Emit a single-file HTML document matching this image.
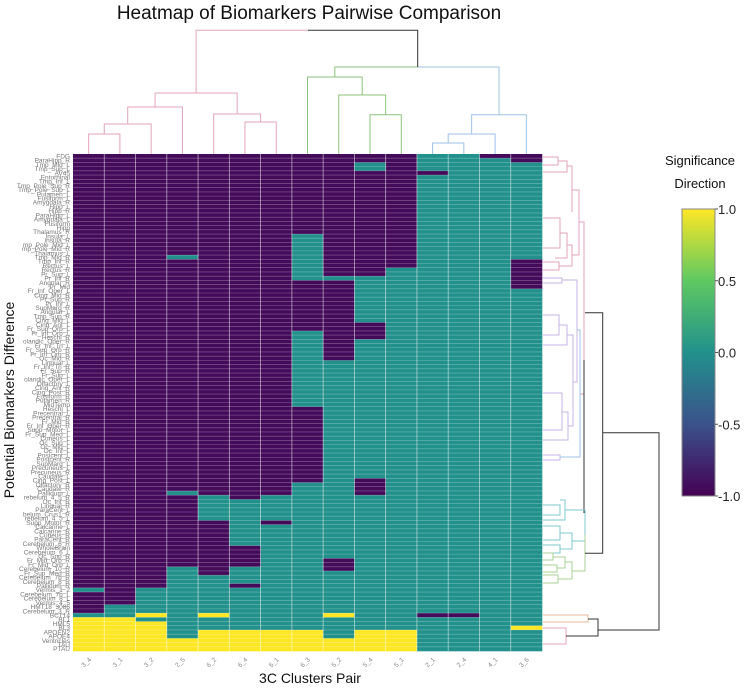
<!DOCTYPE html>
<html><head><meta charset="utf-8"><style>
body{margin:0;background:#fff;}
svg{display:block;font-family:"Liberation Sans",sans-serif;}
</style></head><body>
<svg id="chart" width="748" height="688" viewBox="0 0 748 688" xmlns="http://www.w3.org/2000/svg">
<text x="309" y="19" text-anchor="middle" font-size="19" fill="#111">Heatmap of Biomarkers Pairwise Comparison</text>
<text x="310" y="683" text-anchor="middle" font-size="14" fill="#111">3C Clusters Pair</text>
<text transform="translate(14,400) rotate(-90)" text-anchor="middle" font-size="14" fill="#111">Potential Biomarkers Difference</text>
<g id="cells"></g>
<g id="grid"></g>
<g id="rowlabels"></g>
<g id="collabels"></g>
<g id="topdendro" fill="none" stroke-width="1"></g>
<g id="rightdendro" fill="none" stroke-width="1"></g>
<defs><linearGradient id="vir" x1="0" y1="1" x2="0" y2="0">
<stop offset="0" stop-color="#440154"/><stop offset="0.25" stop-color="#3b528b"/><stop offset="0.5" stop-color="#21918c"/><stop offset="0.75" stop-color="#5ec962"/><stop offset="1" stop-color="#fde725"/></linearGradient></defs>
<g>
<text x="700" y="165" text-anchor="middle" font-size="13" fill="#111">Significance</text>
<text x="700" y="188" text-anchor="middle" font-size="13" fill="#111">Direction</text>
<rect x="682" y="209" width="33" height="287" fill="url(#vir)" stroke="#888" stroke-width="1"/>
<g id="cbticks"></g>
</g>
</svg>
<script>
const colLabels=["3_4","3_1","3_2","2_5","6_2","6_4","6_1","6_3","5_2","5_4","5_1","2_1","2_4","4_1","3_6"];
const nRows=118;
// run-length values per column: [value, rowCount] pairs (-1 purple, 0 teal, 1 yellow)
const col0=[[-1,103],[0,1],[-1,5],[0,1],[1,8]];
const col1=[[-1,107],[0,3],[1,8]];
const col2=[[-1,103],[0,6],[1,1],[0,1],[1,7]];
const col3=[[-1,24],[0,1],[-1,55],[0,1],[-1,17],[0,17],[1,3]];
const col4=[[-1,81],[0,6],[-1,13],[0,9],[1,1],[0,3],[1,5]];
const col5=[[-1,82],[0,11],[-1,5],[0,4],[-1,1],[0,10],[1,5]];
const col6=[[-1,81],[0,6],[-1,1],[0,25],[1,5]];
const col7=[[-1,19],[0,11],[-1,12],[0,18],[-1,18],[0,35],[1,5]];
const col8=[[-1,29],[0,1],[-1,19],[0,47],[-1,3],[0,10],[1,1],[0,5],[1,3]];
const col9=[[-1,2],[0,2],[-1,25],[0,11],[-1,4],[0,33],[-1,4],[0,32],[1,5]];
const col10=[[-1,27],[0,86],[1,5]];
const col11=[[0,4],[-1,1],[0,104],[-1,1],[0,8]];
const col12=[[0,109],[-1,1],[0,8]];
const col13=[[-1,1],[0,117]];
const col14=[[-1,2],[0,23],[-1,7],[0,80],[1,1],[0,5]];
const columns=[col0,col1,col2,col3,col4,col5,col6,col7,col8,col9,col10,col11,col12,col13,col14];
const rowLabels=["FDG","ParaHipp_R","Tmp_Mid_L","Tmp_Sup_L","AV45","Entorhinal","Tmp_Inf_L","Tmp_Pole_Sup_R","Tmp_Pole_Sup_L","Putamen_L","Fusiform_L","Amygdala_R","Hipp_L","Hipp_R","ParaHipp_L","Amygdala_L","Fusiform","Hipp","Thalamus_R","Insula_L","Insula_R","mp_Pole_Mid_L","mp_Pole_Mid_R","Thalamus_L","Tmp_Mid_R","Tmp_Inf_R","Rectus_L","Rectus_R","Pr_Sup_L","Pr_Inf_R","Angular_R","Pr_Mid","Fr_Inf_Oper_L","Cing_Mid_R","Pr_Sup_R","Pr_Inf_L","SupMarg_R","Angular_L","Tmp_Sup_R","Cing_Mid_L","Cing_Ant_L","Fr_Sup_Orb_L","Fr_Inf_Orb_L","Heschl_R","olandic_Oper_R","Fr_Inf_Tri_L","Fr_Sup_Orb_R","Fr_Inf_Orb_R","Oc_Mid_R","Lingual_L","Fr_Inf_Tri_R","Fr_Sup_R","Fr_Sup_L","olandic_Oper_L","Olfactory_L","Cing_Ant_R","Cing_Post_R","Fusiform_R","Putamen_R","MidTemp","Heschl_L","Precentral_L","Precentral_R","Fr_Mid_R","Fr_Inf_Oper_R","Supp_Motor_L","Fr_Sup_Med_L","Cuneus_L","Oc_Sup_L","Oc_Mid_L","Oc_Inf_L","Postcent_L","Postcent_R","SupMarg_L","Precuneus_L","Precuneus_R","Caudate_L","Cing_Post_L","Olfactory_R","Caudate_R","Pallidum_L","rebelum_4_5_R","Oc_Inf_R","Lingual_R","ParaCent_L","belum_Crus1_R","rebelum_4_5_L","Supp_Motor_R","Calcarine_L","Calcarine_R","Cuneus_R","ParaCent_R","Cerebelum_6_R","WholeBrain","Cerebelum_6_L","Oc_Sup_R","Fr_Mid_Orb_R","Fr_Mid_Orb_L","Cerebelum_10_R","Fr_Sup_Med_R","Cerebelum_7b_R","Cerebelum_8_R","Pallidum_R","Vermis_1_2","Cerebelum_7b_L","Cerebelum_8_L","Vermis_4_5","HMT18_3086","Cerebelum_3_R","BCT14","BL1","HML5","BL3","APOEN2","APOE4","Ventricles","TAU","PTAU"];
const cbTicks=[1.0,0.5,0.0,-0.5,-1.0];

const NS="http://www.w3.org/2000/svg";
const X0=73,X1=542,Y0=154,Y1=651;
const cw=(X1-X0)/colLabels.length, rh=(Y1-Y0)/nRows;
const xPos=i=>X0+i*cw, yPos=r=>Y0+r*rh;
const colorOf=v=>v<0?"#450b5b":(v>0?"#fde725":"#22918b");
function mk(tag,attrs,parent){const e=document.createElementNS(NS,tag);for(const k in attrs)e.setAttribute(k,attrs[k]);parent.appendChild(e);return e;}
const cells=document.getElementById('cells');
columns.forEach((runs,ci)=>{let r=0;runs.forEach(([v,n])=>{
  const e=mk('rect',{x:xPos(ci),y:yPos(r),width:cw+0.3,height:n*rh+0.3,fill:colorOf(v)},cells);
  
  
  r+=n;});});
const grid=document.getElementById('grid');
for(let r=1;r<nRows;r++){const l=mk('line',{x1:X0,x2:X1,y1:yPos(r),y2:yPos(r),stroke:"rgba(255,255,255,0.35)","stroke-width":0.6},grid);
  
  }
for(let c=1;c<colLabels.length;c++){const l=mk('line',{x1:xPos(c),x2:xPos(c),y1:Y0,y2:Y1,stroke:"rgba(255,255,255,0.6)","stroke-width":0.8},grid);
  
  }
const rl=document.getElementById('rowlabels');
const off=nRows-rowLabels.length;
rowLabels.forEach((t,i)=>{const r=i+off;
  const e=mk('text',{x:70,y:yPos(r+0.5)+2.3,"text-anchor":"end","font-size":6.5,fill:"#777"},rl);e.textContent=t;
  
  });
const cl=document.getElementById('collabels');
colLabels.forEach((t,i)=>{const cx=xPos(i+0.5);
  const e=mk('text',{x:0,y:0,"text-anchor":"end","font-size":6.5,fill:"#888",transform:`translate(${cx+3},${Y1+9}) rotate(-45)`},cl);e.textContent=t;
  
  });
const cbt=document.getElementById('cbticks');
cbTicks.forEach(v=>{const y=496-(v+1)/2*287;
  mk('line',{x1:715,x2:718,y1:y,y2:y,stroke:"#555"},cbt);
  const e=mk('text',{x:718,y:y+5,"font-size":13,fill:"#222"},cbt);e.textContent=v.toFixed(1);
  
  });
// top dendrogram: path segments
const pink="#e3a5b8",green="#8cc37c",blue="#9dc2e6",purp="#c4b4e4",teal="#7fc8cf",lgreen="#a9d09a",orange="#e8b89c";
const cx=i=>xPos(i+0.5);
const td=document.getElementById('topdendro');
function U(xa,ya,xb,yb,top,col,g){mk('path',{d:`M${xa},${ya}V${top}H${xb}V${yb}`,stroke:col},g);}
const a=cx(0)/2+cx(1)/2;
U(cx(0),154,cx(1),154,134,pink,td);
U(a,134,cx(2),154,124,pink,td);
const b=(a+cx(2))/2; U(b,124,cx(3),154,107,pink,td);
const c1=(b+cx(3))/2;
U(cx(5),154,cx(6),154,122,pink,td);
const d=(cx(5)+cx(6))/2; U(cx(4),154,d,122,114,pink,td);
const e2=(cx(4)+d)/2; U(c1,107,e2,114,93,pink,td);
const pinkTop=(c1+e2)/2;
U(cx(9),154,cx(10),154,114.7,green,td);
const g1=(cx(9)+cx(10))/2; U(cx(8),154,g1,114.7,95,green,td);
const g2=(cx(8)+g1)/2; U(cx(7),154,g2,95,77,green,td);
const gTop=(cx(7)+g2)/2;
U(cx(11),154,cx(12),154,143,blue,td);
const b1=(cx(11)+cx(12))/2; U(b1,143,cx(13),154,134,blue,td);
const b2=(b1+cx(13))/2; U(b2,134,cx(14),154,114.7,blue,td);
const bTop=(b2+cx(14))/2;
const gb=417.7;
mk('path',{d:`M${gTop},77V67H${gb}`,stroke:green},td);
mk('path',{d:`M${gb},67H${bTop}V114.7`,stroke:blue},td);
mk('path',{d:`M${pinkTop},93V30.3H308`,stroke:pink},td);
mk('path',{d:`M308,30.3H${gb}V67`,stroke:"#333"},td);
// right dendrogram
const rd=document.getElementById('rightdendro');
function R(y1,y2,xl1,xl2,xj,col){mk('path',{d:`M${xl1},${y1}H${xj}V${y2}H${xl2}`,stroke:col},rd);}
R(157,165,543,543,558,pink);R(161,172,558,543,567,pink);R(166,212,567,572,572,pink);
R(218,248,543,543,560,pink);R(233,258,560,555,567,pink);R(262,270,543,543,559,pink);R(245,266,567,559,572,pink);
R(190,255,572,572,579,pink);
R(278,283,543,543,562,purp);R(315,335,543,543,559,purp);R(325,345,559,543,567,purp);
R(393,430,543,543,562,purp);R(412,440,562,543,568,purp);R(335,426,567,568,573,purp);
R(280,382,562,573,577,purp);R(455,460,543,543,560,purp);R(330,457,577,560,580,blue);
R(222,394,579,580,584,pink);
R(360,513,584,584,584,"#333");
R(505,515,543,543,560,teal);R(500,520,560,543,565,teal);R(526,540,543,543,560,teal);R(545,553,543,543,560,teal);
R(533,549,560,560,572,teal);R(510,541,565,572,585,teal);
R(553,560,543,543,553,lgreen);R(565,572,543,543,557,lgreen);R(557,568,553,557,565,lgreen);
R(575,583,543,543,558,lgreen);R(562,579,565,558,572,lgreen);R(535,571,585,572,585,lgreen);
R(312.7,553.3,585,585,602.7,"#333");
R(615,622,543,543,588,orange);R(628,644,543,543,566,pink);R(619,636,588,566,598,"#333");
R(432.7,630,602.7,598,659,"#333");
</script>
</body></html>
